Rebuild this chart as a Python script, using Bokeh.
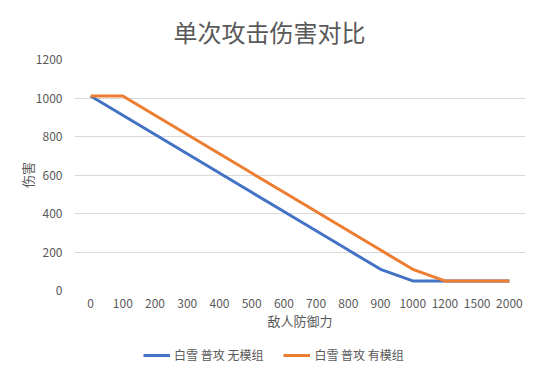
from bokeh.plotting import figure
from bokeh.layouts import column
from bokeh.models import Legend, LegendItem, Range1d, FixedTicker, ColumnDataSource
from bokeh.embed import file_html
from bokeh.resources import INLINE

defense = ["0", "100", "200", "300", "400", "500", "600", "700", "800", "900", "1000", "1200", "1500", "2000"]
no_module = [1010, 910, 810, 710, 610, 510, 410, 310, 210, 110, 50, 50, 50, 50]
with_module = [1010, 1010, 910, 810, 710, 610, 510, 410, 310, 210, 110, 50, 50, 50]
names = ["白雪 普攻 无模组", "白雪 普攻 有模组"]
colors = ["#4472C4", "#ED7D31"]
title_text = "单次攻击伤害对比"
x_label = "敌人防御力"
y_label = "伤害"

FONT = "Noto Sans CJK SC"
GRAY = "#595959"

src = ColumnDataSource(dict(x=defense, a=no_module, b=with_module))

p = figure(width=542, height=333, x_range=defense, y_range=Range1d(0, 1200),
           output_backend="svg", toolbar_location=None,
           min_border_left=74, min_border_right=17, min_border_top=59, min_border_bottom=43)
p.title.text = title_text
p.title.align = "left"
p.title.vertical_align = "top"
p.title.offset = 99
p.title.standoff = 18
p.title.text_font = FONT
p.title.text_font_size = "24px"
p.title.text_font_style = "normal"
p.title.text_color = GRAY
p.outline_line_color = None
p.background_fill_color = "white"
p.border_fill_color = "white"

p.yaxis.ticker = FixedTicker(ticks=[0, 200, 400, 600, 800, 1000, 1200])
for ax in (p.xaxis[0], p.yaxis[0]):
    ax.axis_line_color = None
    ax.major_tick_line_color = None
    ax.minor_tick_line_color = None
    ax.major_label_text_font = FONT
    ax.major_label_text_font_size = "12px"
    ax.major_label_text_color = GRAY
    ax.axis_label_text_font = FONT
    ax.axis_label_text_font_size = "13px"
    ax.axis_label_text_font_style = "normal"
    ax.axis_label_text_color = GRAY
p.xaxis.axis_label = x_label
p.yaxis.axis_label = y_label
p.xaxis.major_label_standoff = 2
p.yaxis.major_label_standoff = 6
p.xaxis.axis_label_standoff = 0
p.yaxis.axis_label_standoff = -4

p.xgrid.grid_line_color = None
p.ygrid.grid_line_color = "#D9D9D9"
p.ygrid.grid_line_width = 1

p.line("x", "a", source=src, line_color=colors[0], line_width=3)
p.line("x", "b", source=src, line_color=colors[1], line_width=3)

# legend strip below the chart (its renderers hold no visible data)
nan = float("nan")
lg = figure(width=542, height=44, x_range=Range1d(0, 1), y_range=Range1d(0, 1),
            output_backend="svg", toolbar_location=None,
            min_border=0, min_border_left=0, min_border_right=0, min_border_top=0, min_border_bottom=0)
lg.axis.visible = False
lg.grid.visible = False
lg.outline_line_color = None
lg.background_fill_color = "white"
lg.border_fill_color = "white"
e1 = lg.line(x=[nan], y=[nan], line_color=colors[0], line_width=3)
e2 = lg.line(x=[nan], y=[nan], line_color=colors[1], line_width=3)
legend = Legend(items=[LegendItem(label=names[0], renderers=[e1]),
                       LegendItem(label=names[1], renderers=[e2])],
                orientation="horizontal", location=(69, 14),
                label_text_font=FONT, label_text_font_size="12px", label_text_color=GRAY,
                glyph_width=27, glyph_height=12, spacing=20, padding=0, margin=0,
                label_standoff=4,
                background_fill_alpha=0, border_line_color=None)
lg.add_layout(legend, "center")

layout = column(p, lg, spacing=0)
open("out.html", "w").write(file_html(layout, INLINE))
